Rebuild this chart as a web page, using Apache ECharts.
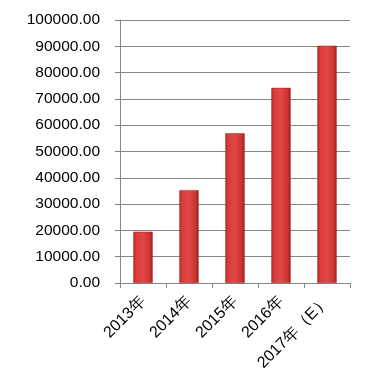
<!DOCTYPE html>
<html><head><meta charset="utf-8">
<script src="https://cdn.jsdelivr.net/npm/echarts@6/dist/echarts.min.js"></script>
<style>html,body{margin:0;padding:0;background:#fff}#c{width:370px;height:383px}</style>
</head><body><div id="c"></div>
<script>
var categories = ['2013年','2014年','2015年','2016年','2017年（E）'];
var values = [19500, 35300, 56900, 74200, 90200];
var yTicks = {min:0, max:100000, interval:10000};

var chart = echarts.init(document.getElementById('c'), null, {renderer:'canvas'});
chart.setOption({
  animation:false,
  backgroundColor:'#fff',
  grid:{left:120, right:20, top:20, bottom:100, containLabel:false},
  xAxis:{type:'category', data:categories,
    axisLine:{lineStyle:{color:'#868686'}},
    axisTick:{show:true, alignWithLabel:false, length:5, lineStyle:{color:'#868686'}},
    axisLabel:{rotate:45, interval:0, color:'#000', fontFamily:'Liberation Sans', fontSize:16, margin:16}
  },
  yAxis:{type:'value', min:yTicks.min, max:yTicks.max, interval:yTicks.interval,
    axisLine:{show:true, lineStyle:{color:'#868686'}},
    axisTick:{show:true, length:5, lineStyle:{color:'#868686'}},
    splitLine:{lineStyle:{color:'#868686'}},
    axisLabel:{color:'#000', fontFamily:'Liberation Sans', fontSize:15.5, margin:20,
      formatter:function(v){return v.toFixed(2);}}
  },
  series:[{type:'bar', data:values, barWidth:'42%',
    itemStyle:{color:new echarts.graphic.LinearGradient(0,0,1,0,[
      {offset:0,color:'#b62a28'},{offset:0.15,color:'#d83c3a'},{offset:0.5,color:'#e04846'},
      {offset:0.85,color:'#c83432'},{offset:1,color:'#9a1e1c'}]),
      borderColor:'#a82422', borderWidth:0.5}
  }]
});
</script></body></html>
